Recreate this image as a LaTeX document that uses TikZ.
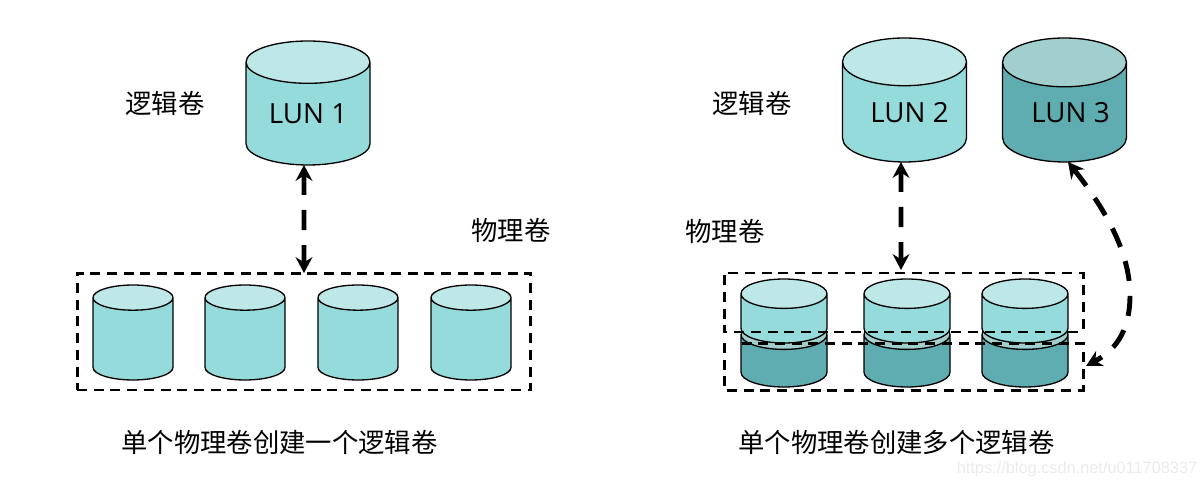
\documentclass[tikz,border=0pt]{standalone}
\usepackage{fontspec}
\setmainfont{Open Sans}
\newfontfamily\cjk{Noto Sans CJK SC}
\newfontfamily\markfont{Liberation Sans}
\usetikzlibrary{positioning}
\usetikzlibrary{arrows.meta}
\usetikzlibrary{shapes.geometric}

\definecolor{lighttop}{HTML}{BEE8E8}
\definecolor{lightbody}{HTML}{95DBDB}
\definecolor{darktop}{HTML}{A0CFCE}
\definecolor{darkbody}{HTML}{5FADB0}

\tikzset{
    drum/.style={cylinder, shape border rotate=90, anchor=north, draw=black, line width=0.75pt, cylinder uses custom fill, outer sep=0pt, inner sep=0pt},
    light/.style={drum, cylinder body fill=lightbody, cylinder end fill=lighttop},
    dark/.style={drum, cylinder body fill=darkbody, cylinder end fill=darktop},
    big/.style={minimum width=2.48cm, minimum height=2.48cm, aspect=0.54, font=\fontsize{15.8}{18}\selectfont},
    small/.style={minimum width=1.6cm, minimum height=1.9cm, aspect=0.72},
    mid/.style={minimum width=1.72cm, aspect=0.84},
    pool/.style={draw=black, line width=1.7pt, dash pattern=on 5.7pt off 3.8pt, outer sep=0pt, inner sep=0pt},
    title/.style={font=\cjk\fontsize{15}{18}\selectfont, inner sep=0pt},
    link/.style={line width=2.8pt, dash pattern=on 11.5pt off 8.5pt, {Stealth[length=9pt,width=9.5pt]}-{Stealth[length=9pt,width=9.5pt]}}
}

\begin{document}
\begin{tikzpicture}[x=0.02cm, y=-0.02cm]
    \useasboundingbox (0, 0) rectangle (1203, 487);

    % left side
    \node [light, big] (lun1) at (308, 41) {LUN 1};
    \node [title] (logic1) at (165, 103) {逻辑卷};
    \node [title] (phys1) at (511, 230) {物理卷};
    \node [pool, minimum width=9.08cm, minimum height=2.34cm] (pool1) at (304, 331.5) {};
    \node [light, small] (disk1) at (133, 285) {\phantom{LUN}};
    \node [light, small] (disk2) at (245, 285) {\phantom{LUN}};
    \node [light, small] (disk3) at (358, 285) {\phantom{LUN}};
    \node [light, small] (disk4) at (471, 285) {\phantom{LUN}};
    \node [title] (cap1) at (279.5, 442) {单个物理卷创建一个逻辑卷};

    \draw [link] ([xshift=-0.08cm]lun1.south) -- (pool1.north);

    % right side
    \node [light, big] (lun2) at (904.5, 38) {\hspace{0.2cm}LUN 2};
    \node [dark, big] (lun3) at (1064.5, 38) {\hspace{0.24cm}\raisebox{-0.04cm}{LUN 3}};
    \node [title] (logic2) at (752, 103) {逻辑卷};
    \node [title] (phys2) at (725, 231) {物理卷};

    \node [dark, mid, minimum height=1.34cm] (low1) at (784, 320) {\phantom{LUN}};
    \node [light, mid, minimum height=1.28cm] (up1) at (784, 279) {\phantom{LUN}};
    \node [dark, mid, minimum height=1.34cm] (low2) at (907, 320) {\phantom{LUN}};
    \node [light, mid, minimum height=1.28cm] (up2) at (907, 279) {\phantom{LUN}};
    \node [dark, mid, minimum height=1.34cm] (low3) at (1025, 320) {\phantom{LUN}};
    \node [light, mid, minimum height=1.28cm] (up3) at (1025, 279) {\phantom{LUN}};

    \coordinate (topleft) at (724, 332);
    \coordinate (topright) at (1083, 273);
    \coordinate (topend) at (1078, 332);
    \coordinate (lowleft) at (738, 343);
    \coordinate (lowright) at (1083, 390);
    \draw [pool] (topend) -- (topleft) -- (topleft |- topright) -- (topright) -- (topright |- topend);
    \draw [pool] (topleft |- lowleft) -- (topleft |- lowright) -- (lowright) -- (lowright |- lowleft) -- (lowleft);

    \coordinate (arrowlow) at (901, 270);
    \coordinate (curveend) at (1086, 366);
    \draw [link] ([xshift=-0.07cm]lun2.south) -- (arrowlow);
    \draw [link] ([xshift=0.07cm]lun3.south) .. controls (1102, 205) and (1130, 250) .. (1130, 295) .. controls (1130, 335) and (1112, 352) .. (curveend);

    \node [title] (cap2) at (896.5, 442) {单个物理卷创建多个逻辑卷};
    \node [font=\markfont\fontsize{9.3}{12}\selectfont, text=black!8, inner sep=0pt] (mark) at (1077, 469) {https://blog.csdn.net/u011708337};
\end{tikzpicture}
\end{document}
